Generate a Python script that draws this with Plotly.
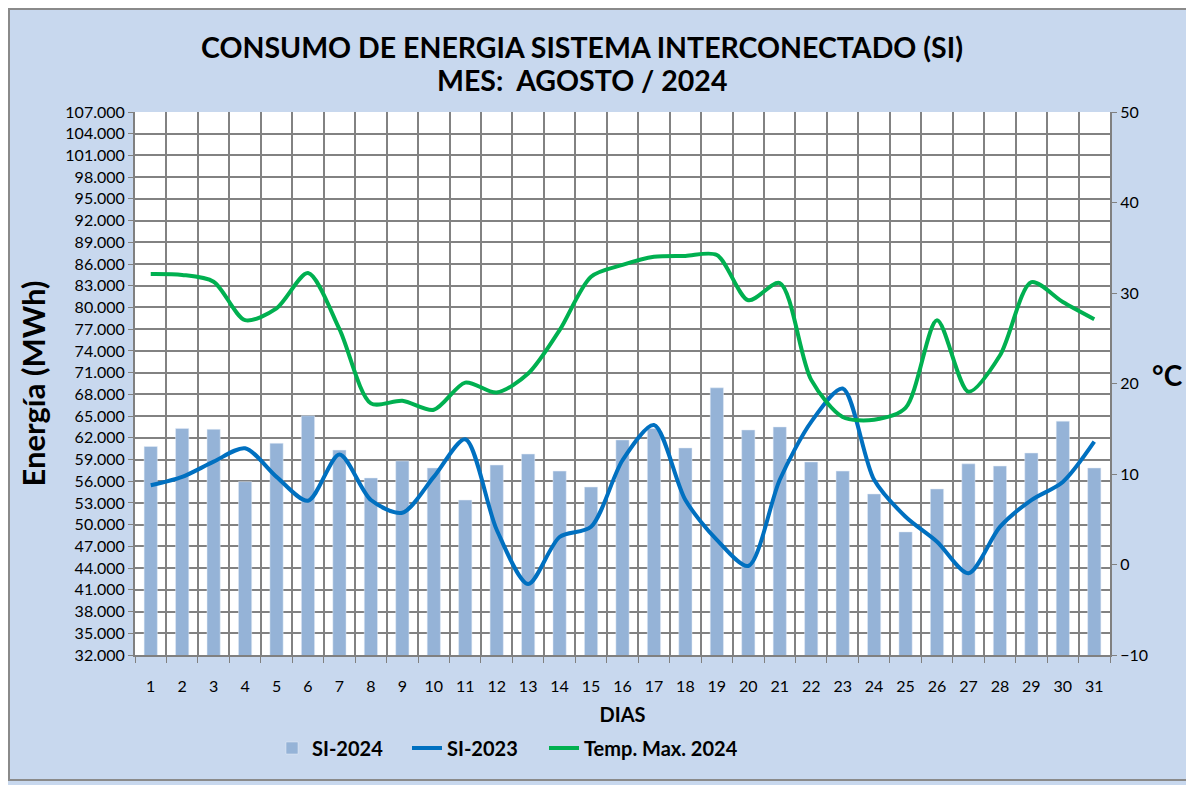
import plotly.graph_objects as go

days = list(range(1, 32))
si_2024 = [60800, 63300, 63170, 55940, 61240, 65050, 60300, 56450, 58800, 57830,
           53400, 58240, 59760, 57400, 55200, 61700, 63300, 60600, 68900, 63080,
           63500, 58660, 57400, 54240, 49000, 54930, 58400, 58100, 59900, 64300, 57830]
si_2023 = [55440, 56600, 58700, 60550, 56600, 53300, 59700, 53400, 51650, 56600,
           61800, 49300, 41800, 48300, 49700, 58900, 63770, 53400, 47900, 44300,
           56200, 64200, 68800, 56200, 51100, 47650, 43300, 49700, 53400, 55900, 61460]
temp_max = [32.1, 32.0, 31.25, 27.0, 28.3, 32.2, 26.0, 17.8, 18.1, 17.1,
            20.1, 19.0, 21.1, 25.9, 31.8, 33.1, 34.0, 34.1, 34.2, 29.2,
            31.1, 20.4, 16.3, 16.0, 17.3, 27.0, 19.1, 23.1, 31.2, 29.0, 27.1]
title_lines = ["CONSUMO DE ENERGIA SISTEMA INTERCONECTADO (SI)", "MES:  AGOSTO / 2024"]

FONT = "Lato, 'Open Sans', Arial, sans-serif"

OFF = 8  # page body margin
W, H = 1194, 785
L, R, T, B = 135 - OFF, 1110 - OFF, 112 - OFF, 655 - OFF
PW, PH = R - L, B - T


def px_x(sx):
    return (sx - OFF - L) / PW


def px_y(sy):
    return (B - (sy - OFF)) / PH


fig = go.Figure()
fig.add_trace(go.Bar(x=days, y=si_2024, name="<b>SI-2024</b>", marker_color="#95b3d7",
                     width=0.42, yaxis="y", legend="legend"))
fig.add_trace(go.Scatter(x=days, y=si_2023, name="<b>SI-2023</b>", mode="lines",
                         line=dict(color="#0070c0", width=4, shape="spline", smoothing=0.8),
                         yaxis="y", legend="legend2"))
fig.add_trace(go.Scatter(x=days, y=temp_max, name="<b>Temp. Max. 2024</b>", mode="lines",
                         line=dict(color="#00b050", width=4, shape="spline", smoothing=0.8),
                         yaxis="y2", legend="legend3"))


def leg(sx):
    return dict(orientation="h", xref="container", x=(sx - OFF) / W, xanchor="left",
                yref="container", y=1 - (748 - OFF) / H, yanchor="middle",
                font=dict(size=20, family=FONT), bgcolor="rgba(0,0,0,0)", itemwidth=30)


fig.update_layout(
    width=W, height=H,
    margin=dict(l=L, r=W - R, t=T, b=H - B, autoexpand=False),
    paper_bgcolor="#c8d8ee",
    plot_bgcolor="#ffffff",
    separators=",.",
    font=dict(family=FONT, size=16, color="#000000"),
    xaxis=dict(range=[0.5, 31.5], tickmode="array", tickvals=days,
               ticktext=[str(d) for d in days], showgrid=False, zeroline=False,
               showline=True, linecolor="#808080", linewidth=2,
               ticks="", tickfont=dict(size=16), ticklabelstandoff=16, automargin=False,
               minor=dict(tick0=0.5, dtick=1, showgrid=True, gridcolor="#828282",
                          gridwidth=1.5, ticks="outside", ticklen=6, tickcolor="#808080"),
               title=dict(text="<b>DIAS</b>", font=dict(size=20), standoff=14)),
    yaxis=dict(range=[32000, 107000], tickmode="linear", tick0=32000, dtick=3000,
               tickformat=",d", showgrid=True, gridcolor="#828282", gridwidth=1.5,
               zeroline=False, showline=True, linecolor="#808080", linewidth=2,
               ticks="outside", ticklen=5, tickcolor="#808080", tickfont=dict(size=16),
               automargin=False,
               title=dict(text="<b>Energía (MWh)</b>", font=dict(size=31), standoff=10)),
    yaxis2=dict(range=[-10, 50], tickmode="linear", tick0=-10, dtick=10,
                overlaying="y", side="right", showgrid=False, zeroline=False,
                showline=True, linecolor="#808080", linewidth=2, automargin=False,
                ticks="outside", ticklen=5, tickcolor="#808080", tickfont=dict(size=16)),
    legend=leg(272),
    legend2=leg(407),
    legend3=leg(544),
    showlegend=True,
)

for line, sy in zip(title_lines, [47, 80]):
    fig.add_annotation(text="<b>" + line + "</b>", xref="paper", yref="paper",
                       x=px_x(582), y=px_y(sy), xanchor="center", yanchor="middle",
                       showarrow=False, font=dict(size=28.5, family=FONT, color="#000000"))

fig.add_annotation(text="<b>°C</b>", xref="paper", yref="paper", x=px_x(1167),
                   y=px_y(375), xanchor="center", yanchor="middle", showarrow=False,
                   font=dict(size=28, family=FONT, color="#000000"))

fig.add_shape(type="rect", xref="paper", yref="paper",
              x0=px_x(9), x1=px_x(1187), y0=px_y(780), y1=px_y(9),
              line=dict(color="#8a8a8a", width=2), layer="below")

fig.write_html("out.html")
